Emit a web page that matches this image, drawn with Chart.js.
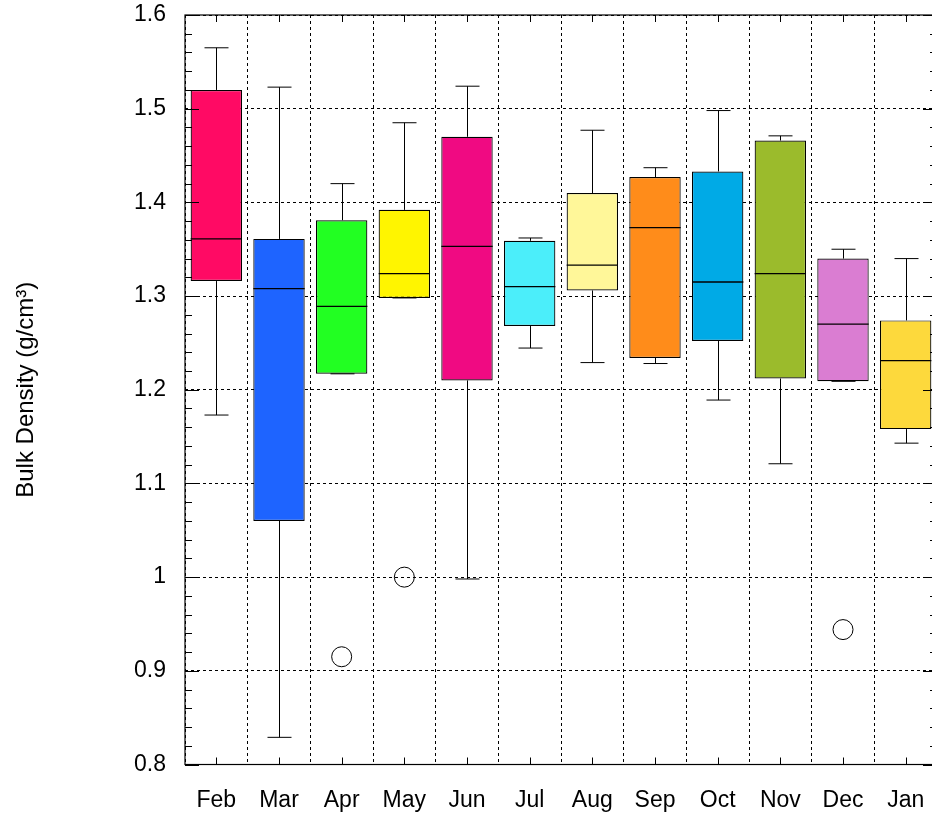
<!DOCTYPE html>
<html>
<head>
<meta charset="utf-8">
<script src="https://cdn.jsdelivr.net/npm/chart.js@4.4.1/dist/chart.umd.min.js"></script>
<style>
html,body{margin:0;padding:0;background:#fff;overflow:hidden;width:932px;height:816px;}
canvas{display:block;}
</style>
</head>
<body>
<canvas id="c" width="948" height="816" style="width:948px;height:816px"></canvas>
<script>
const months = ['Feb','Mar','Apr','May','Jun','Jul','Aug','Sep','Oct','Nov','Dec','Jan'];
const whiskerMax = [1.565, 1.523, 1.420, 1.485, 1.524, 1.362, 1.477, 1.437, 1.498, 1.471, 1.350, 1.340];
const q3         = [1.520, 1.361, 1.381, 1.392, 1.470, 1.359, 1.410, 1.427, 1.433, 1.466, 1.340, 1.274];
const median     = [1.361, 1.308, 1.289, 1.324, 1.353, 1.310, 1.333, 1.373, 1.315, 1.324, 1.270, 1.231];
const q1         = [1.316, 1.060, 1.217, 1.298, 1.210, 1.268, 1.306, 1.234, 1.252, 1.212, 1.209, 1.158];
const whiskerMin = [1.173, 0.829, 1.217, 1.298, 0.998, 1.2445, 1.229, 1.228, 1.189, 1.121, 1.209, 1.143];
const outliers   = [null, null, 0.915, 1.000, null, null, null, null, null, null, 0.944, null];
const boxColors  = ['#FF0A64','#1E64FF','#22FF22','#FFF500','#F00A82','#4BEEFA','#FFF799','#FF8C1A','#00AAE6','#9BBB2C','#DA7DD2','#FDD93C'];
const yTickValues = [0.8, 0.9, 1.0, 1.1, 1.2, 1.3, 1.4, 1.5, 1.6];
const yLabel = 'Bulk Density (g/cm³)';

const FONT = "'Liberation Sans', Arial, Helvetica, sans-serif";

const boxPlugin = {
  id: 'boxDecor',
  afterDatasetsDraw(chart) {
    const ctx = chart.ctx;
    const x = chart.scales.x, y = chart.scales.y;
    const meta = chart.getDatasetMeta(0);
    ctx.save();
    ctx.strokeStyle = '#000';
    ctx.lineWidth = 1;
    months.forEach((m, i) => {
      const cx = Math.round(x.getPixelForValue(i)) + 0.5;
      const bar = meta.data[i];
      const half = bar.width / 2;
      const capHalf = 12;
      const yMax = y.getPixelForValue(whiskerMax[i]);
      const yQ3 = y.getPixelForValue(q3[i]);
      const yQ1 = y.getPixelForValue(q1[i]);
      const yMin = y.getPixelForValue(whiskerMin[i]);
      const yMed = y.getPixelForValue(median[i]);
      ctx.beginPath();
      ctx.moveTo(cx, yMax); ctx.lineTo(cx, yQ3);
      ctx.moveTo(cx - capHalf, yMax); ctx.lineTo(cx + capHalf, yMax);
      ctx.moveTo(cx, yQ1); ctx.lineTo(cx, yMin);
      ctx.moveTo(cx - capHalf, yMin); ctx.lineTo(cx + capHalf, yMin);
      ctx.stroke();
      ctx.beginPath();
      ctx.lineWidth = 1.3;
      ctx.moveTo(bar.x - half, yMed); ctx.lineTo(bar.x + half, yMed);
      ctx.stroke();
      ctx.lineWidth = 1;
    });
    ctx.restore();
  },
  afterDraw(chart) {
    const ctx = chart.ctx;
    const a = chart.chartArea;
    const x = chart.scales.x, y = chart.scales.y;
    ctx.save();
    ctx.strokeStyle = '#000';
    ctx.lineWidth = 1.2;
    ctx.strokeRect(a.left, a.top, a.right - a.left, a.bottom - a.top);
    ctx.lineWidth = 1;
    ctx.beginPath();
    months.forEach((m, i) => {
      const px = Math.round(x.getPixelForValue(i)) + 0.5;
      ctx.moveTo(px, a.bottom); ctx.lineTo(px, a.bottom - 7);
      ctx.moveTo(px, a.top); ctx.lineTo(px, a.top + 7);
    });
    const yMinV = y.min, yMaxV = y.max;
    const nMinor = Math.round((yMaxV - yMinV) / 0.02);
    for (let k = 0; k <= nMinor; k++) {
      const v = yMinV + k * 0.02;
      const py = Math.round(y.getPixelForValue(v)) + 0.5;
      const len = (k % 5 === 0) ? 14 : 7;
      ctx.moveTo(a.left, py); ctx.lineTo(a.left + len, py);
      ctx.moveTo(a.right, py); ctx.lineTo(a.right - len, py);
    }
    ctx.stroke();
    ctx.restore();
  }
};

new Chart(document.getElementById('c'), {
  type: 'bar',
  data: {
    labels: months,
    datasets: [
      {
        type: 'bar',
        data: months.map((m, i) => [q1[i], q3[i]]),
        backgroundColor: boxColors,
        borderColor: '#000',
        borderWidth: 1.2,
        borderSkipped: false,
        barPercentage: 0.82,
        categoryPercentage: 1.0,
        order: 2
      },
      {
        type: 'line',
        data: outliers,
        showLine: false,
        pointStyle: 'circle',
        pointRadius: 10,
        pointBackgroundColor: 'rgba(255,255,255,0)',
        pointBorderColor: '#000',
        pointBorderWidth: 1,
        order: 1
      }
    ]
  },
  options: {
    responsive: false,
    animation: false,
    events: [],
    layout: { padding: { top: 15, right: 0, left: 0, bottom: 0 } },
    plugins: { legend: { display: false }, tooltip: { enabled: false } },
    scales: {
      x: {
        offset: true,
        grid: { offset: true, color: '#000', lineWidth: 1, drawTicks: true, tickLength: 22, tickColor: 'rgba(0,0,0,0)' },
        border: { display: false, dash: [3,3] },
        ticks: { color: '#000', font: { family: FONT, size: 23 }, padding: 0, maxRotation: 0 },
        afterFit: (s) => { s.height = 51.5; }
      },
      y: {
        min: 0.8,
        max: 1.6,
        afterBuildTicks: (s) => { s.ticks = yTickValues.map(v => ({ value: v })); },
        grid: { color: '#000', lineWidth: 1, drawTicks: true, tickLength: 19, tickColor: 'rgba(0,0,0,0)' },
        border: { display: false, dash: [3,3] },
        ticks: {
          color: '#000',
          font: { family: FONT, size: 23 },
          padding: 0,
          callback: (v) => String(Math.round(v * 10) / 10)
        },
        title: {
          display: true,
          text: yLabel,
          color: '#000',
          font: { family: FONT, size: 24 },
          padding: { top: 12, bottom: 0 }
        },
        afterFit: (s) => { s.width = 185; }
      }
    }
  },
  plugins: [boxPlugin]
});
</script>
</body>
</html>
